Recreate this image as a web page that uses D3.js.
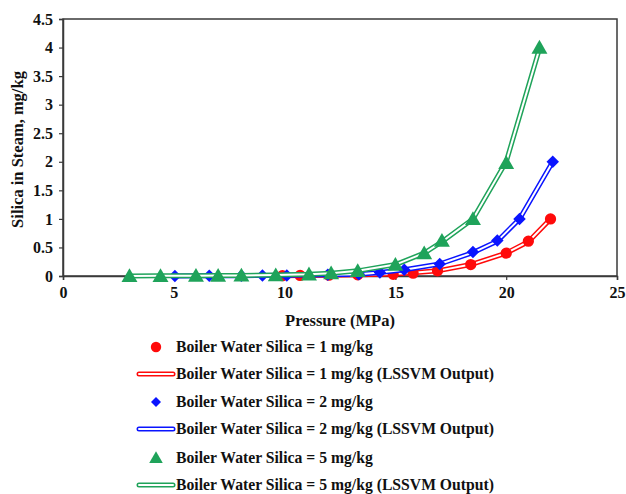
<!DOCTYPE html>
<html>
<head>
<meta charset="utf-8">
<script src="https://cdn.jsdelivr.net/npm/d3@7"></script>
<style>
  html, body { margin: 0; padding: 0; background: #fff; }
  svg { display: block; }
  text { font-family: "Liberation Serif", "Times New Roman", serif; font-weight: bold; fill: #111; }
</style>
</head>
<body>
<svg id="chart" width="626" height="494"></svg>
<script>
// Pressure (MPa) and silica carried into steam (mg/kg) for three boiler-water silica levels
const pressure1 = [9.9, 10.7, 12.0, 13.3, 14.9, 15.8, 16.9, 18.4, 20.0, 21.0, 22.0];
const silica1   = [0.005, 0.01, 0.015, 0.02, 0.03, 0.05, 0.09, 0.2, 0.4, 0.61, 1.0];

const pressure2 = [5.05, 6.6, 8.05, 9.0, 10.1, 11.95, 13.35, 14.3, 15.4, 17.0, 18.5, 19.6, 20.6, 22.1];
const silica2   = [0.002, 0.003, 0.005, 0.007, 0.01, 0.02, 0.03, 0.06, 0.11, 0.21, 0.42, 0.62, 1.0, 2.0];

const pressure5 = [3.0, 4.4, 6.0, 7.0, 8.05, 9.6, 11.1, 12.1, 13.3, 15.0, 16.3, 17.1, 18.5, 20.0, 21.5];
const silica5   = [0.002, 0.003, 0.005, 0.007, 0.01, 0.015, 0.03, 0.05, 0.09, 0.2, 0.4, 0.62, 1.0, 1.98, 4.0];

// LSSVM model output at the same pressures
const lssvm1 = [0.004, 0.008, 0.013, 0.02, 0.035, 0.055, 0.09, 0.2, 0.4, 0.6, 1.0];
const lssvm2 = [0.001, 0.003, 0.005, 0.008, 0.011, 0.02, 0.032, 0.06, 0.11, 0.21, 0.41, 0.61, 1.0, 2.0];
const lssvm5 = [0.002, 0.004, 0.006, 0.008, 0.01, 0.016, 0.03, 0.05, 0.09, 0.2, 0.4, 0.6, 1.0, 2.0, 3.98];

const xTicks = [0, 5, 10, 15, 20, 25];
const yTicks = [0, 0.5, 1, 1.5, 2, 2.5, 3, 3.5, 4, 4.5];

const legendLabels = [
  "Boiler Water Silica = 1 mg/kg",
  "Boiler Water Silica = 1 mg/kg (LSSVM Output)",
  "Boiler Water Silica = 2 mg/kg",
  "Boiler Water Silica = 2 mg/kg (LSSVM Output)",
  "Boiler Water Silica = 5 mg/kg",
  "Boiler Water Silica = 5 mg/kg (LSSVM Output)"
];

const RED = "#ff0a0a", BLUE = "#0a14ff", GREEN = "#1fa35a";

const series = [
  { x: pressure1, y: silica1, fit: lssvm1, color: RED,   shape: "circle" },
  { x: pressure2, y: silica2, fit: lssvm2, color: BLUE,  shape: "diamond" },
  { x: pressure5, y: silica5, fit: lssvm5, color: GREEN, shape: "triangle" }
];

const svg = d3.select("#chart");
const m = { left: 63, right: 617, top: 19, bottom: 276 };

const x = d3.scaleLinear().domain([0, 25]).range([m.left, m.right]);
const y = d3.scaleLinear().domain([0, 4.5]).range([m.bottom, m.top]);

const axisColor = "#3a3a3a";

// plot frame
svg.append("rect")
  .attr("x", m.left).attr("y", m.top)
  .attr("width", m.right - m.left).attr("height", m.bottom - m.top)
  .attr("fill", "none").attr("stroke", axisColor).attr("stroke-width", 1.5);

// axes
const xAxis = svg.append("g")
  .attr("transform", `translate(0,${m.bottom})`)
  .call(d3.axisBottom(x).tickValues(xTicks).tickFormat(d3.format("d")).tickSize(4).tickPadding(7));
const yAxis = svg.append("g")
  .attr("transform", `translate(${m.left},0)`)
  .call(d3.axisLeft(y).tickValues(yTicks).tickFormat(d => String(d)).tickSize(4).tickPadding(6));

[xAxis, yAxis].forEach(g => {
  g.select(".domain").attr("stroke", axisColor).attr("stroke-width", 1.5);
  g.selectAll(".tick line").attr("stroke", axisColor).attr("stroke-width", 1.2);
  g.selectAll(".tick text")
    .attr("font-family", "Liberation Serif, Times New Roman, serif")
    .attr("font-weight", "bold").attr("font-size", 16).attr("fill", "#111");
});

// axis titles
svg.append("text")
  .attr("x", (m.left + m.right) / 2).attr("y", 326)
  .attr("text-anchor", "middle").attr("font-size", 16.5)
  .text("Pressure (MPa)");
svg.append("text")
  .attr("transform", `translate(23,${(m.top + m.bottom) / 2 + 2}) rotate(-90)`)
  .attr("text-anchor", "middle").attr("font-size", 16.5)
  .text("Silica in Steam, mg/kg");

// marker shapes
const symbolFor = {
  circle: d3.symbol().type(d3.symbolCircle).size(100),
  diamond: d3.symbol().type(d3.symbolSquare).size(78),
  triangle: d3.symbol().type(d3.symbolTriangle).size(110)
};
const rotFor = { circle: 0, diamond: 45, triangle: 0 };

const line = d3.line().x(d => x(d[0])).y(d => y(d[1]));

// double-stroked model line: coloured outline with a white core
function drawDoubleLine(g, d, color) {
  g.append("path").attr("d", d).attr("fill", "none")
    .attr("stroke", color).attr("stroke-width", 5).attr("stroke-linejoin", "round").attr("stroke-linecap", "round");
  g.append("path").attr("d", d).attr("fill", "none")
    .attr("stroke", "#fff").attr("stroke-width", 2).attr("stroke-linejoin", "round").attr("stroke-linecap", "round");
}

const plot = svg.append("g");
series.forEach(s => {
  const g = plot.append("g");
  drawDoubleLine(g, line(s.x.map((v, i) => [v, s.fit[i]])), s.color);
  g.selectAll("path.mark")
    .data(s.x.map((v, i) => [v, s.y[i]]))
    .join("path")
    .attr("class", "mark")
    .attr("d", symbolFor[s.shape])
    .attr("transform", d => `translate(${x(d[0])},${y(d[1]) + (s.shape === "triangle" ? 1.5 : 0)}) rotate(${rotFor[s.shape]})`)
    .attr("fill", s.color);
});

// legend
const legendY = [347, 374, 402, 429, 458, 485];
const legend = svg.append("g");
legendLabels.forEach((label, i) => {
  const s = series[Math.floor(i / 2)];
  const yy = legendY[i];
  if (i % 2 === 0) {
    legend.append("path")
      .attr("d", d3.symbol().type(s.shape === "circle" ? d3.symbolCircle : s.shape === "diamond" ? d3.symbolSquare : d3.symbolTriangle)
        .size(s.shape === "circle" ? 85 : s.shape === "diamond" ? 50 : 80))
      .attr("transform", `translate(156,${yy + (s.shape === "triangle" ? 1 : 0)}) rotate(${rotFor[s.shape]})`)
      .attr("fill", s.color);
  } else {
    drawDoubleLine(legend, `M139,${yy}L173,${yy}`, s.color);
  }
  legend.append("text")
    .attr("x", 176).attr("y", yy).attr("dy", "0.35em")
    .attr("font-size", 15.7)
    .text(label);
});
</script>
</body>
</html>
